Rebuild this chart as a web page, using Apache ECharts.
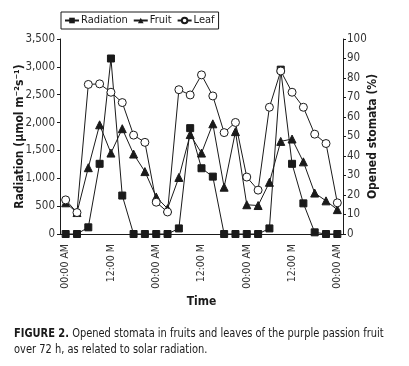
<!DOCTYPE html>
<html>
<head>
<meta charset="utf-8">
<script src="https://cdn.jsdelivr.net/npm/echarts@6/dist/echarts.min.js"></script>
<style>
  html, body { margin: 0; padding: 0; background: #fff; }
  #chart { width: 409px; height: 366px; }
</style>
</head>
<body>
<div id="chart"></div>
<script>
// times every 3 h over 72 h
var categories = ['00:00 AM', '03:00 AM', '06:00 AM', '09:00 AM', '12:00 M', '03:00 PM', '06:00 PM', '09:00 PM',
  '00:00 AM', '03:00 AM', '06:00 AM', '09:00 AM', '12:00 M', '03:00 PM', '06:00 PM', '09:00 PM',
  '00:00 AM', '03:00 AM', '06:00 AM', '09:00 AM', '12:00 M', '03:00 PM', '06:00 PM', '09:00 PM',
  '00:00 AM'];
var radiation = [0, 0, 120, 1260, 3150, 690, 0, 0, 0, 0, 100, 1900, 1180, 1030, 0, 0, 0, 0, 100, 2950, 1260, 550, 30, 0, 0];
var fruit = [16, 11, 34, 56, 41.5, 54, 41, 32, 19, 13, 29, 51, 41.5, 56.5, 24, 52.5, 15, 14.6, 26.5, 47.5, 48.7, 37, 21, 17, 12.5];
var leaf = [17.5, 11, 76.7, 77, 72.7, 67.4, 50.7, 47, 16.3, 11.3, 74, 71.3, 81.6, 70.8, 52, 57.2, 29.2, 22.5, 65, 83.6, 72.7, 65, 51.2, 46.4, 16];
var leftTicks = [0, 500, 1000, 1500, 2000, 2500, 3000, 3500];
var rightTicks = [0, 10, 20, 30, 40, 50, 60, 70, 80, 90, 100];

var font = "'DejaVu Sans Condensed', 'Liberation Sans', sans-serif";
var ink = '#1a1a1a';

var myChart = echarts.init(document.getElementById('chart'));
var option = {
  animation: false,
  textStyle: { fontFamily: font, color: ink },
  grid: { left: 60, right: 66, top: 39, bottom: 132 },
  legend: {
    left: 61, top: 12,
    itemWidth: 14, itemHeight: 7, itemGap: 5,
    padding: [3, 4, 3, 3],
    borderColor: ink, borderWidth: 1,
    textStyle: { fontFamily: font, fontSize: 11, color: ink, padding: [0, 0, 0, -3] },
    data: ['Radiation', 'Fruit', 'Leaf']
  },
  xAxis: {
    type: 'category',
    data: categories,
    boundaryGap: true,
    name: 'Time',
    nameLocation: 'middle',
    nameGap: 62,
    nameMoveOverlap: false,
    nameTextStyle: { fontWeight: 'bold', fontSize: 12, color: ink, fontFamily: font },
    axisLine: { lineStyle: { color: ink, width: 1 } },
    axisTick: { alignWithLabel: true, interval: 0, length: 3, lineStyle: { color: ink } },
    axisLabel: {
      interval: 3, rotate: 90, fontSize: 10.5, color: '#333', margin: 10, fontFamily: font
    },
    splitLine: { show: false }
  },
  yAxis: [{
    type: 'value',
    min: leftTicks[0], max: leftTicks[leftTicks.length - 1], interval: 500,
    name: 'Radiation (\u03bcmol m\u207b\u00b2s\u207b\u00b9)',
    nameLocation: 'middle', nameRotate: 90, nameGap: 34,
    nameMoveOverlap: false,
    nameTextStyle: { fontWeight: 'bold', fontSize: 12, color: ink, fontFamily: font },
    axisLine: { show: true, lineStyle: { color: ink } },
    axisTick: { show: true, length: 3, lineStyle: { color: ink } },
    axisLabel: {
      fontSize: 11.5, color: '#333', margin: 5, fontFamily: font,
      formatter: function (v) { return v.toLocaleString('en-US'); }
    },
    splitLine: { show: false }
  }, {
    type: 'value',
    min: rightTicks[0], max: rightTicks[rightTicks.length - 1], interval: 10,
    position: 'right',
    name: 'Opened stomata (%)',
    nameLocation: 'middle', nameRotate: 90, nameGap: 24,
    nameMoveOverlap: false,
    nameTextStyle: { fontWeight: 'bold', fontSize: 12, color: ink, fontFamily: font },
    axisLine: { show: true, lineStyle: { color: ink } },
    axisTick: { show: true, length: 3, lineStyle: { color: ink } },
    axisLabel: { fontSize: 11.5, color: '#333', margin: 4, fontFamily: font },
    splitLine: { show: false }
  }],
  series: [{
    name: 'Radiation', type: 'line', yAxisIndex: 0, data: radiation,
    symbol: 'rect', symbolSize: 7, showAllSymbol: true, z: 3,
    itemStyle: { color: ink, borderColor: ink },
    lineStyle: { color: ink, width: 1 }
  }, {
    name: 'Fruit', type: 'line', yAxisIndex: 1, data: fruit,
    symbol: 'triangle', symbolSize: 8, showAllSymbol: true, z: 4,
    itemStyle: { color: ink, borderColor: ink },
    lineStyle: { color: ink, width: 1 }
  }, {
    name: 'Leaf', type: 'line', yAxisIndex: 1, data: leaf,
    symbol: 'circle', symbolSize: 8, showAllSymbol: true, z: 5,
    itemStyle: { color: '#fff', borderColor: ink, borderWidth: 1 },
    lineStyle: { color: ink, width: 1 }
  }],
  graphic: [{
    type: 'text', x: 14, y: 326, scaleX: 0.845,
    style: {
      text: '{b|FIGURE 2.} Opened stomata in fruits and leaves of the purple passion fruit\nover 72 h, as related to solar radiation.',
      font: '13px ' + font, fill: ink, lineHeight: 16,
      rich: { b: { fontWeight: 'bold', fontSize: 13, fontFamily: font, fill: ink } }
    }
  }]
};
myChart.setOption(option);
</script>
</body>
</html>
